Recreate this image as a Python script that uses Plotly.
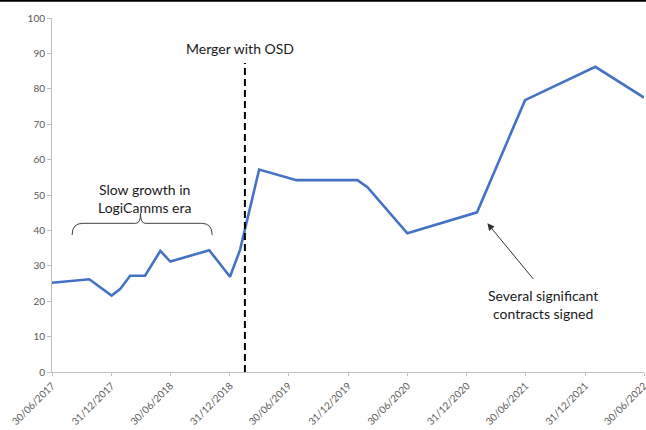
import plotly.graph_objects as go
import pandas as pd

# Series: index value over time
dates = [
    "2017-06-30", "2017-10-23", "2017-12-31", "2018-01-26", "2018-02-26",
    "2018-04-13", "2018-05-30", "2018-06-30", "2018-10-28", "2018-12-31",
    "2019-01-31", "2019-03-31", "2019-07-24", "2020-01-28", "2020-02-28",
    "2020-06-30", "2021-01-31", "2021-06-28", "2022-01-31", "2022-06-30",
]
values = [
    25.2, 26.2, 21.6, 23.4, 27.2,
    27.2, 34.2, 31.2, 34.4, 26.9,
    34.5, 57.2, 54.2, 54.2, 52.2,
    39.2, 45.1, 76.8, 86.2, 77.5,
]

tick_dates = [
    "2017-06-30", "2017-12-31", "2018-06-30", "2018-12-31", "2019-06-30",
    "2019-12-31", "2020-06-30", "2020-12-31", "2021-06-30", "2021-12-31",
    "2022-06-30",
]
tick_labels = [pd.Timestamp(d).strftime("%d/%m/%Y") for d in tick_dates]

merger_date = "2019-02-15"
merger_top = 87.3

x_min, x_max = pd.Timestamp("2017-06-30"), pd.Timestamp("2022-06-30")
y_min, y_max = 0, 100

FONT = "Lato, Calibri, sans-serif"
TEXT_COLOR = "#1a1a1a"
AXIS_COLOR = "#bfbfbf"
TICK_FONT = dict(size=10, color="#595959", family=FONT)


def xp(d):
    """Date -> paper x fraction."""
    return (pd.Timestamp(d) - x_min) / (x_max - x_min)


def yp(v):
    """Value -> paper y fraction."""
    return (v - y_min) / (y_max - y_min)


fig = go.Figure()
fig.add_trace(go.Scatter(
    x=dates, y=values, mode="lines",
    line=dict(color="#4472C4", width=2.6),
    hoverinfo="skip", showlegend=False,
))

# Curly brace over the early period
bl, bm, br = xp("2017-08-31"), xp("2018-03-30"), xp("2018-11-06")
b_bot, b_mid, b_tip = yp(38.7), yp(42.0), yp(44.8)
dx = 0.018
dx2 = 0.008
brace = (
    f"M {bl},{b_bot} Q {bl},{b_mid} {bl+dx},{b_mid} "
    f"L {bm-dx2},{b_mid} Q {bm},{b_mid} {bm},{b_tip} "
    f"Q {bm},{b_mid} {bm+dx2},{b_mid} "
    f"L {br-dx},{b_mid} Q {br},{b_mid} {br},{b_bot}"
)

fig.update_layout(
    width=646, height=430,
    margin=dict(l=52, r=2, t=18, b=58),
    paper_bgcolor="white", plot_bgcolor="white",
    font=dict(family=FONT, color=TEXT_COLOR),
    xaxis=dict(
        range=[x_min, x_max], type="date", automargin=False,
        tickvals=tick_dates, ticktext=tick_labels, tickangle=-45,
        ticklabeloverflow="allow",
        showgrid=False, zeroline=False,
        showline=True, linecolor=AXIS_COLOR, linewidth=1,
        ticks="outside", ticklen=3, tickcolor=AXIS_COLOR,
        tickfont=TICK_FONT,
    ),
    yaxis=dict(
        range=[y_min, y_max], dtick=10, automargin=False,
        showgrid=False, zeroline=False,
        showline=True, linecolor=AXIS_COLOR, linewidth=1,
        ticks="outside", ticklen=4, tickcolor=AXIS_COLOR,
        tickfont=TICK_FONT,
    ),
    shapes=[
        dict(type="line", xref="x", yref="y",
             x0=merger_date, x1=merger_date, y0=0, y1=merger_top,
             line=dict(color="black", width=2, dash="7px,4px")),
        dict(type="path", xref="paper", yref="paper", path=brace,
             line=dict(color="#404040", width=1)),
        dict(type="line", xref="paper", yref="paper",
             x0=-0.1, x1=1.01, y0=1.049, y1=1.049,
             line=dict(color="black", width=2)),
    ],
    annotations=[
        dict(x="2019-01-31", y=91.5, xref="x", yref="y",
             text="Merger with OSD", showarrow=False,
             font=dict(size=14, color=TEXT_COLOR)),
        dict(x="2018-04-10", y=49, xref="x", yref="y",
             text="Slow growth in<br>LogiCamms era", showarrow=False,
             font=dict(size=14, color=TEXT_COLOR)),
        dict(x="2021-03-04", y=42.0, xref="x", yref="y",
             text="", showarrow=True, arrowhead=2, arrowsize=1.4,
             arrowwidth=1, arrowcolor="#303030",
             ax=47, ay=57),
        dict(x="2021-08-22", y=19.2, xref="x", yref="y",
             text="Several significant<br>contracts signed", showarrow=False,
             font=dict(size=14, color=TEXT_COLOR)),
    ],
)

fig.write_html("out.html")
